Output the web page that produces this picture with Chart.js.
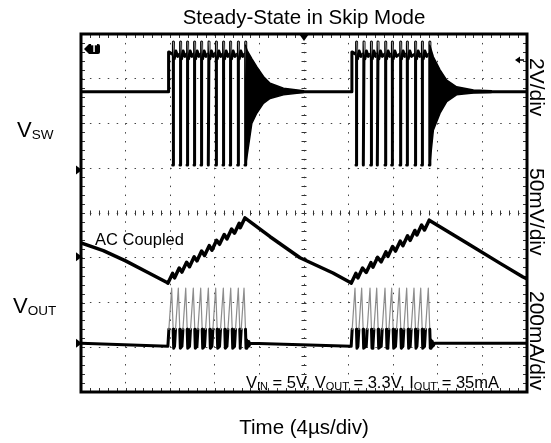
<!DOCTYPE html>
<html>
<head>
<meta charset="utf-8">
<script src="https://cdn.jsdelivr.net/npm/chart.js@4.4.0/dist/chart.umd.min.js"></script>
<style>
  html, body { margin: 0; padding: 0; background: #fff; }
  #wrap { width: 551px; height: 443px; }
</style>
</head>
<body>
<div id="wrap"><canvas id="scope" width="551" height="443"></canvas></div>
<script>
// screen units: x = divisions (10 div, 4us/div), y = divisions (8 div)
const titleText = 'Steady-State in Skip Mode';
const xTitle = 'Time (4\u00b5s/div)';
const scaleLabels = ['2V/div', '50mV/div', '200mA/div'];
const scaleLabelY = [58, 168, 291];

// switch node
const vswBase = 6.71;
const vswBurstStart = [1.96, 6.07];
const vswLows1 = [2.056, 2.220, 2.377, 2.534, 2.691, 2.854, 3.020, 3.184, 3.341, 3.513, 3.677];
const vswLows2 = [6.166, 6.330, 6.496, 6.644, 6.816, 6.966, 7.152, 7.302, 7.489, 7.639, 7.809];
const vswPulseDt = [-0.006, 0, 0.01, 0.016, 0.035, 0.07, 0.11];
const vswPulseY = [7.55, 5.07, 5.07, 7.82, 7.45, 7.62, 7.50];
const ringX1 = [3.69, 3.72, 3.83, 3.94, 4.09, 4.24, 4.54, 4.99];
const ringUp1 = [7.75, 7.64, 7.45, 7.27, 7.05, 6.90, 6.79, 6.73];
const ringLo1 = [5.07, 5.25, 6.00, 6.23, 6.45, 6.56, 6.64, 6.69];
const ringX2 = [7.82, 7.90, 8.05, 8.20, 8.42, 8.80, 9.20];
const ringUp2 = [7.75, 7.49, 7.20, 6.97, 6.82, 6.75, 6.73];
const ringLo2 = [5.07, 5.85, 6.23, 6.49, 6.64, 6.68, 6.69];

// inductor current
const ilZero = 1.09;
const ilPeaks1 = [2.033, 2.182, 2.348, 2.518, 2.684, 2.855, 3.020, 3.191, 3.357, 3.527, 3.655];
const ilPeaks2 = [6.143, 6.293, 6.480, 6.630, 6.816, 6.966, 7.137, 7.302, 7.466, 7.617, 7.787];
const ilTriDt = [-0.085, -0.063, 0, 0.033, 0.045];
const ilTriY = [1.02, 1.40, 2.32, 1.40, 0.98];
const ilTailDt = [0.06, 0.075, 0.09, 0.11, 0.14];
const ilTailY = [1.16, 1.00, 1.13, 1.03, 1.09];

// output voltage, AC coupled
const voutDecX0 = [0, 0.5, 1.0, 1.5, 1.94];
const voutDecY0 = [3.33, 3.16, 2.93, 2.67, 2.44];
const voutMin1 = [2.43, 2.55, 2.68, 2.80, 2.93, 3.05, 3.17, 3.30, 3.42, 3.55, 3.67];
const voutMax1 = [2.65, 2.77, 2.90, 3.02, 3.15, 3.27, 3.39, 3.52, 3.64, 3.77, 3.89];
const voutDecX1 = [4.24, 4.91, 5.65, 6.05];
const voutDecY1 = [3.47, 3.00, 2.66, 2.44];
const voutMin2 = [2.43, 2.55, 2.67, 2.79, 2.91, 3.03, 3.15, 3.27, 3.39, 3.51, 3.62];
const voutMax2 = [2.65, 2.77, 2.89, 3.01, 3.13, 3.25, 3.37, 3.49, 3.61, 3.73, 3.84];
const voutDecX2 = [8.65, 9.39, 9.91, 10];
const voutDecY2 = [3.33, 2.88, 2.57, 2.53];

const markerLevels = [4.96, 3.02, 1.09];

// ---- build traces ----
const vsw = [{ x: 0, y: vswBase }];
[[vswBurstStart[0], vswLows1, ringX1], [vswBurstStart[1], vswLows2, ringX2]].forEach(([s, lows, rx]) => {
  vsw.push({ x: s, y: vswBase }, { x: s + 0.004, y: 7.6 });
  lows.forEach((t, k) => {
    const n = k === lows.length - 1 ? 4 : vswPulseDt.length;
    for (let i = 0; i < n; i++) vsw.push({ x: t + vswPulseDt[i], y: vswPulseY[i] });
  });
  vsw.push({ x: rx[1], y: vswBase }, { x: rx[rx.length - 1], y: vswBase });
});
vsw.push({ x: 10, y: vswBase });

function ring(xs, up, lo) {
  const pts = xs.map((x, i) => ({ x, y: up[i] }));
  for (let i = xs.length - 1; i >= 0; i--) pts.push({ x: xs[i], y: lo[i] });
  return pts;
}

const il = [{ x: 0, y: ilZero }];
[ilPeaks1, ilPeaks2].forEach(peaks => {
  peaks.forEach(p => ilTriDt.forEach((d, i) => il.push({ x: p + d, y: ilTriY[i] })));
  const last = peaks[peaks.length - 1];
  ilTailDt.forEach((d, i) => il.push({ x: last + d, y: ilTailY[i] }));
});
il.push({ x: 10, y: ilZero });

const vout = [];
voutDecX0.forEach((x, i) => vout.push({ x, y: voutDecY0[i] }));
ilPeaks1.forEach((p, k) => vout.push({ x: p - 0.085, y: voutMin1[k] }, { x: p + 0.02, y: voutMax1[k] }));
voutDecX1.forEach((x, i) => vout.push({ x, y: voutDecY1[i] }));
ilPeaks2.forEach((p, k) => vout.push({ x: p - 0.085, y: voutMin2[k] }, { x: p + 0.02, y: voutMax2[k] }));
voutDecX2.forEach((x, i) => vout.push({ x, y: voutDecY2[i] }));

// fast edges look thin and grey on the scope screen
function edges(thick, greyRise, blackBelow) {
  const steep = c => {
    const dx = Math.abs(c.p1.x - c.p0.x);
    const dy = c.p1.y - c.p0.y;
    if (Math.abs(dy) / Math.max(dx, 0.01) < 5) return false;
    if (blackBelow && Math.min(c.p0.y, c.p1.y) > c.chart.scales.y.getPixelForValue(blackBelow)) return false;
    return greyRise || dy > 0;
  };
  return {
    borderColor: c => steep(c) ? '#8c8c8c' : '#000',
    borderWidth: c => steep(c) ? 1.2 : thick
  };
}

const fontFam = '"Liberation Sans", Arial, sans-serif';

function drawRuns(ctx, runs, x, y, align) {
  let w = 0;
  runs.forEach(r => { ctx.font = r[1] + 'px ' + fontFam; w += ctx.measureText(r[0]).width; });
  let cx = align === 'right' ? x - w : align === 'center' ? x - w / 2 : x;
  runs.forEach(r => {
    ctx.font = r[1] + 'px ' + fontFam;
    ctx.fillText(r[0], cx, y + (r[2] || 0));
    cx += ctx.measureText(r[0]).width;
  });
}

const decor = {
  id: 'decor',
  beforeDatasetsDraw(chart) {
    const { ctx, chartArea: a, scales: { x, y } } = chart;
    ctx.save();
    ctx.strokeStyle = '#333';
    ctx.lineWidth = 1;
    ctx.beginPath();
    const cx = x.getPixelForValue(5), cy = y.getPixelForValue(4);
    for (let v = 0; v <= 10.001; v += 0.2) {
      const px = Math.round(x.getPixelForValue(v)) + 0.5;
      ctx.moveTo(px, cy - 2.5); ctx.lineTo(px, cy + 2.5);
      ctx.moveTo(px, a.top); ctx.lineTo(px, a.top + 4);
      ctx.moveTo(px, a.bottom); ctx.lineTo(px, a.bottom - 4);
    }
    for (let v = 0; v <= 8.001; v += 0.2) {
      const py = Math.round(y.getPixelForValue(v)) + 0.5;
      ctx.moveTo(cx - 2.5, py); ctx.lineTo(cx + 2.5, py);
      ctx.moveTo(a.left, py); ctx.lineTo(a.left + 4, py);
      ctx.moveTo(a.right, py); ctx.lineTo(a.right - 4, py);
    }
    ctx.stroke();
    ctx.restore();
  },
  afterDatasetsDraw(chart) {
    const { ctx, chartArea: a, scales: { x, y } } = chart;
    ctx.save();
    // frame
    ctx.strokeStyle = '#000';
    ctx.lineWidth = 3;
    ctx.strokeRect(a.left, a.top, a.right - a.left, a.bottom - a.top);
    ctx.fillStyle = '#000';
    // trigger position marker (top centre)
    const cx = x.getPixelForValue(5);
    ctx.beginPath();
    ctx.moveTo(cx - 5, a.top); ctx.lineTo(cx + 5, a.top); ctx.lineTo(cx, a.top + 7);
    ctx.closePath(); ctx.fill();
    // "T" marker
    ctx.beginPath();
    ctx.moveTo(a.left + 3, a.top + 15);
    ctx.lineTo(a.left + 8, a.top + 10);
    ctx.lineTo(a.left + 17, a.top + 10);
    ctx.quadraticCurveTo(a.left + 19, a.top + 10, a.left + 19, a.top + 12);
    ctx.lineTo(a.left + 19, a.top + 18);
    ctx.quadraticCurveTo(a.left + 19, a.top + 20, a.left + 17, a.top + 20);
    ctx.lineTo(a.left + 8, a.top + 20);
    ctx.closePath(); ctx.fill();
    ctx.fillStyle = '#fff';
    ctx.font = 'bold 10px ' + fontFam;
    ctx.textAlign = 'center';
    ctx.textBaseline = 'middle';
    ctx.fillText('T', a.left + 13, a.top + 15.5);
    ctx.fillStyle = '#000';
    // trigger level marker (right)
    const ty = 60;
    ctx.beginPath();
    ctx.moveTo(a.right - 12, ty); ctx.lineTo(a.right - 7, ty - 3.5); ctx.lineTo(a.right - 7, ty + 3.5);
    ctx.closePath(); ctx.fill();
    ctx.lineWidth = 1.5;
    ctx.beginPath(); ctx.moveTo(a.right - 8, ty); ctx.lineTo(a.right - 3, ty); ctx.stroke();
    // channel reference markers (left)
    markerLevels.forEach(v => {
      const py = y.getPixelForValue(v);
      ctx.beginPath();
      ctx.moveTo(a.left - 5, py - 4.5); ctx.lineTo(a.left + 1, py); ctx.lineTo(a.left - 5, py + 4.5);
      ctx.closePath(); ctx.fill();
    });
    // texts inside the screen
    ctx.textAlign = 'left';
    ctx.textBaseline = 'alphabetic';
    ctx.font = '16.5px ' + fontFam;
    ctx.fillText('AC Coupled', 95, 245);
    drawRuns(ctx, [['V', 16.5], ['IN', 11, 2], [' = 5V, V', 16.5], ['OUT', 11, 2], [' = 3.3V, I', 16.5], ['OUT', 11, 2], [' = 35mA', 16.5]], a.right - 28, 388, 'right');
    ctx.restore();
  },
  afterDraw(chart) {
    const { ctx, chartArea: a } = chart;
    ctx.save();
    ctx.fillStyle = '#000';
    ctx.textBaseline = 'alphabetic';
    const mid = (a.left + a.right) / 2;
    drawRuns(ctx, [[titleText, 20.5]], mid, 24, 'center');
    drawRuns(ctx, [[xTitle, 20.5]], mid, 434, 'center');
    drawRuns(ctx, [['V', 22], ['SW', 13.5, 2]], 17, 137, 'left');
    drawRuns(ctx, [['V', 22], ['OUT', 13.5, 2]], 13, 313, 'left');
    ctx.font = '21px ' + fontFam;
    ctx.textBaseline = 'middle';
    scaleLabels.forEach((s, i) => {
      ctx.save();
      ctx.translate(a.right + 9, scaleLabelY[i]);
      ctx.rotate(Math.PI / 2);
      ctx.fillText(s, 0, 0);
      ctx.restore();
    });
    ctx.restore();
  }
};

new Chart(document.getElementById('scope'), {
  type: 'line',
  data: {
    datasets: [
      { data: ring(ringX1, ringUp1, ringLo1), fill: 'shape', backgroundColor: '#000', borderColor: '#000', borderWidth: 1.5 },
      { data: ring(ringX2, ringUp2, ringLo2), fill: 'shape', backgroundColor: '#000', borderColor: '#000', borderWidth: 1.5 },
      { data: vsw, borderColor: '#000', borderWidth: 3, segment: edges(3, false) },
      { data: vout, borderColor: '#000', borderWidth: 3.5 },
      { data: il, borderColor: '#000', borderWidth: 3, segment: edges(3, true, 1.45) }
    ]
  },
  options: {
    responsive: false,
    animation: false,
    devicePixelRatio: 1,
    layout: { padding: { left: 81, top: 34, right: 24, bottom: 51 } },
    elements: { point: { radius: 0 }, line: { tension: 0, borderJoinStyle: 'round', borderCapStyle: 'round' } },
    plugins: { legend: { display: false }, tooltip: { enabled: false }, title: { display: false } },
    scales: {
      x: {
        type: 'linear', min: 0, max: 10,
        ticks: { display: false, stepSize: 1 },
        grid: { color: '#444', lineWidth: 1, drawTicks: false },
        border: { display: false, dash: [1.5, 7.42] }
      },
      y: {
        type: 'linear', min: 0, max: 8,
        ticks: { display: false, stepSize: 1 },
        grid: { color: '#444', lineWidth: 1, drawTicks: false },
        border: { display: false, dash: [1.5, 7.42] }
      }
    }
  },
  plugins: [decor]
});
</script>
</body>
</html>
